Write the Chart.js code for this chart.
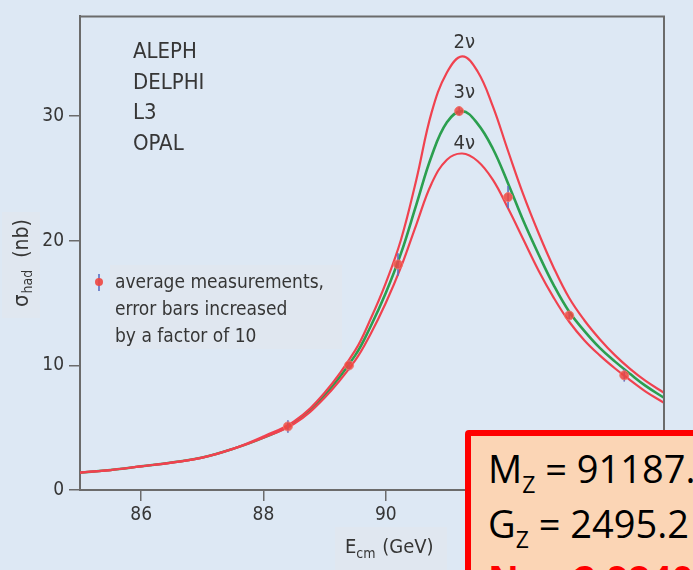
<!DOCTYPE html>
<html>
<head>
<meta charset="utf-8">
<script src="https://cdn.jsdelivr.net/npm/chart.js@4.4.1/dist/chart.umd.min.js"></script>
<style>
    html, body { margin: 0; padding: 0; background: #dde8f4; overflow: hidden; }
    #cadre { position: relative; width: 693px; height: 570px; }
    #encadre {
        position: absolute; left: 465px; top: 430px;
        width: 460px; height: 220px; box-sizing: border-box;
        border: 6px solid #ff0000; border-radius: 4px;
        background: #fbd5b5;
        padding: 8px 0 0 17px;
        font-family: 'Open Sans', sans-serif; font-size: 38px; line-height: 49px;
        white-space: nowrap; color: #000;
    }
    #encadre .ind { font-size: 23px; position: relative; top: 10px; }
    #encadre .rouge { color: #ff0000; font-weight: bold; }
</style>
</head>
<body>
<div id="cadre">
    <canvas id="zChart" width="693" height="570"></canvas>
    <div id="encadre">
        <div>M<span class="ind">Z</span> = 91187.5 ± 2.1 MeV</div>
        <div>G<span class="ind">Z</span> = 2495.2 ± 2.3 MeV</div>
        <div class="rouge">N<span class="ind">ν</span> = 2.9840 ± 0.0082</div>
    </div>
</div>
<script>
// Energie dans le centre de masse (GeV)
const energie = [85, 85.5, 86, 86.5, 87, 87.5, 88, 88.5, 89, 89.5, 89.75, 90, 90.25, 90.5, 90.75,
                 91, 91.25, 91.5, 91.75, 92, 92.25, 92.5, 92.75, 93, 93.25, 93.5, 93.75, 94, 94.25, 94.55];

// Section efficace hadronique (nb) pour 2, 3 et 4 neutrinos
const sigma2nu = [1.4, 1.6, 1.9, 2.2, 2.6, 3.3, 4.3, 5.5, 7.8, 11.2, 13.7, 16.6, 20.1, 24.9, 30.3,
                  33.5, 34.8, 33.6, 30.8, 27.2, 23.7, 20.6, 17.8, 15.4, 13.6, 12.1, 10.8, 9.7, 8.75, 7.8];
const sigma3nu = [1.4, 1.6, 1.9, 2.2, 2.6, 3.3, 4.2, 5.4, 7.6, 10.8, 13.1, 15.8, 19.0, 22.9, 26.8,
                  29.5, 30.4, 29.4, 27.4, 24.6, 21.6, 18.9, 16.4, 14.3, 12.75, 11.4, 10.3, 9.3, 8.35, 7.4];
const sigma4nu = [1.4, 1.6, 1.9, 2.2, 2.6, 3.3, 4.2, 5.3, 7.4, 10.4, 12.5, 15.0, 17.9, 21.3, 24.6,
                  26.5, 27.0, 26.4, 24.9, 22.6, 20.1, 17.6, 15.4, 13.5, 12.0, 10.8, 9.75, 8.8, 7.9, 7.0];

// Mesures moyennes (erreurs deja multipliees par 10)
const mesE = [88.4, 89.4, 90.2, 91.2, 92.0, 93.0, 93.9];
const mesSigma = [5.1, 10.0, 18.1, 30.4, 23.5, 14.0, 9.2];
const mesErreur = [0.5, 0.4, 0.9, 0.4, 0.9, 0.3, 0.5];

const ticksX = [86, 88, 90, 92, 94];
const ticksY = [0, 10, 20, 30];

const experiences = ["ALEPH", "DELPHI", "L3", "OPAL"];
const legendeTexte = ["average measurements,", "error bars increased", "by a factor of 10"];
const etiquettesNu = ["2ν", "3ν", "4ν"];

const police = "'Liberation Sans Narrow', 'DejaVu Sans Condensed', sans-serif";
const gris = '#363636';
const rouge = '#f0424f';
const vert = '#2b9f4f';

const versPoints = (xs, ys) => xs.map((x, i) => ({ x: x, y: ys[i] }));

// dessin des textes, cadre et barres d'erreur
const decor = {
    id: 'decor',
    beforeDraw(chart) {
        const ctx = chart.ctx;
        ctx.save();
        ctx.fillStyle = 'rgba(228,230,234,0.45)';
        ctx.fillRect(2, 212, 38, 106);
        ctx.fillRect(110, 265, 232, 84);
        ctx.fillRect(335, 527, 112, 43);
        ctx.restore();
    },
    beforeDatasetDraw(chart, args) {
        if (args.index !== 0) return;
        const { ctx, scales: { x, y } } = chart;
        ctx.save();
        ctx.strokeStyle = '#5a6ec2';
        ctx.lineWidth = 1.6;
        mesE.forEach((e, i) => {
            const px = x.getPixelForValue(e);
            ctx.beginPath();
            ctx.moveTo(px, y.getPixelForValue(mesSigma[i] - mesErreur[i]));
            ctx.lineTo(px, y.getPixelForValue(mesSigma[i] + mesErreur[i]));
            ctx.stroke();
        });
        ctx.restore();
    },
    afterDraw(chart) {
        const { ctx, chartArea: a, scales: { x, y } } = chart;
        ctx.save();

        // cadre haut et droit
        ctx.strokeStyle = '#6b6b6b';
        ctx.lineWidth = 2;
        ctx.beginPath();
        ctx.moveTo(a.left, a.top);
        ctx.lineTo(a.right, a.top);
        ctx.lineTo(a.right, a.bottom);
        ctx.stroke();

        ctx.fillStyle = gris;
        ctx.textBaseline = 'alphabetic';
        ctx.textAlign = 'left';

        // experiences LEP
        ctx.font = '22px ' + police;
        experiences.forEach((nom, i) => ctx.fillText(nom, a.left + 53, a.top + 42 + i * 30.5));

        // legende des mesures
        ctx.strokeStyle = '#5a6ec2';
        ctx.lineWidth = 1.6;
        ctx.beginPath();
        ctx.moveTo(99, 274);
        ctx.lineTo(99, 291);
        ctx.stroke();
        ctx.fillStyle = 'rgba(238,70,64,0.9)';
        ctx.beginPath();
        ctx.arc(99, 282, 4, 0, Math.PI * 2);
        ctx.fill();
        ctx.fillStyle = gris;
        ctx.font = '19px ' + police;
        legendeTexte.forEach((ligne, i) => ctx.fillText(ligne, 115, 288 + i * 27));

        // nombre de neutrinos au-dessus de chaque pic
        const series = [sigma2nu, sigma3nu, sigma4nu];
        const decalage = [13, 18, 10];
        ctx.font = '20px ' + police;
        ctx.textAlign = 'center';
        ctx.textBaseline = 'middle';
        series.forEach((s, i) => {
            const max = Math.max(...s);
            const e = energie[s.indexOf(max)];
            ctx.fillText(etiquettesNu[i], x.getPixelForValue(e) + 2, y.getPixelForValue(max) - decalage[i]);
        });

        // titre axe x : E_cm (GeV)
        ctx.textAlign = 'left';
        ctx.textBaseline = 'alphabetic';
        ctx.font = '20px ' + police;
        ctx.fillText('E', 345, 553);
        let w = ctx.measureText('E').width;
        ctx.font = '14px ' + police;
        ctx.fillText('cm', 345 + w, 558);
        w += ctx.measureText('cm').width;
        ctx.font = '20px ' + police;
        ctx.fillText(' (GeV)', 345 + w + 1, 553);

        // titre axe y : sigma_had (nb)
        ctx.translate(28, 307);
        ctx.rotate(-Math.PI / 2);
        ctx.font = '22px ' + police;
        ctx.fillText('σ', 0, 0);
        w = ctx.measureText('σ').width;
        ctx.font = '14px ' + police;
        ctx.fillText('had', w + 1, 4);
        w += ctx.measureText('had').width + 1;
        ctx.font = '21px ' + police;
        ctx.fillText('  (nb)', w, 0);

        ctx.restore();
    }
};

const axeCommun = {
    grid: { display: true, drawOnChartArea: false, drawTicks: true, tickLength: 11, color: '#6b6b6b', lineWidth: 1.5 },
    border: { display: true, color: '#6b6b6b', width: 2 },
    ticks: { color: gris, font: { family: police, size: 19 } }
};

const courbe = (label, valeurs, couleur, epaisseur) => ({
    label: label,
    data: versPoints(energie, valeurs),
    showLine: true, pointRadius: 0,
    borderColor: couleur, borderWidth: epaisseur,
    tension: 0.4
});

new Chart(document.getElementById('zChart'), {
    type: 'scatter',
    data: {
        datasets: [
            {
                label: 'mesures',
                data: versPoints(mesE, mesSigma),
                pointRadius: 4.5,
                pointBackgroundColor: 'rgba(238,70,64,0.85)',
                pointBorderColor: 'rgba(240,120,110,0.9)',
                pointBorderWidth: 1,
                showLine: false
            },
            courbe('2ν', sigma2nu, rouge, 2.2),
            courbe('4ν', sigma4nu, rouge, 2.2),
            courbe('3ν', sigma3nu, vert, 2.6)
        ]
    },
    options: {
        responsive: false,
        animation: false,
        devicePixelRatio: 1,
        layout: { padding: { left: 0, top: 12, right: 29, bottom: 0 } },
        plugins: { legend: { display: false }, tooltip: { enabled: false } },
        scales: {
            x: {
                ...axeCommun,
                type: 'linear', min: 85, max: 94.55,
                ticks: { ...axeCommun.ticks, padding: 3 },
                afterBuildTicks: s => { s.ticks = ticksX.map(v => ({ value: v })); },
                afterFit: s => { s.height = 80; }
            },
            y: {
                ...axeCommun,
                type: 'linear', min: 0, max: 38,
                ticks: { ...axeCommun.ticks, padding: 5 },
                afterBuildTicks: s => { s.ticks = ticksY.map(v => ({ value: v })); },
                afterFit: s => { s.width = 80; }
            }
        }
    },
    plugins: [decor]
});
</script>
</body>
</html>
